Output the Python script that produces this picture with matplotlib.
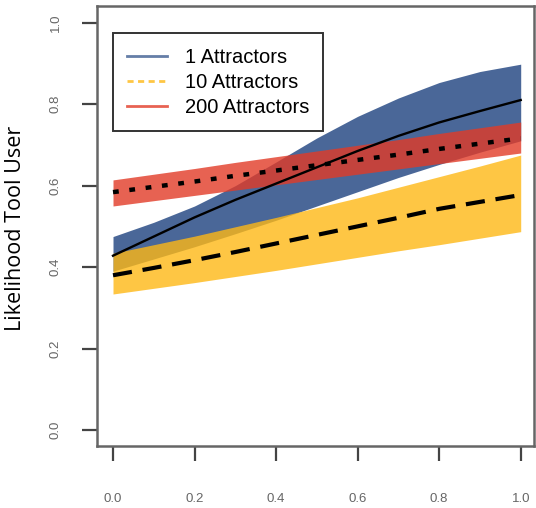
import matplotlib
matplotlib.use('Agg')
import matplotlib.pyplot as plt
from matplotlib.lines import Line2D
import numpy as np

# ============================================================
# 数据
# ============================================================
x_vals = [0.0, 0.1, 0.2, 0.3, 0.4, 0.5, 0.6, 0.7, 0.8, 0.9, 1.0]

# 1 Attractors
mean_1 = [0.428, 0.475, 0.522, 0.565, 0.605, 0.645, 0.685, 0.722, 0.755, 0.783, 0.810]
upper_1 = [0.475, 0.510, 0.550, 0.600, 0.658, 0.717, 0.770, 0.815, 0.853, 0.880, 0.898]
lower_1 = [0.390, 0.420, 0.450, 0.482, 0.515, 0.550, 0.585, 0.620, 0.652, 0.682, 0.710]

# 10 Attractors
mean_10 = [0.380, 0.398, 0.417, 0.437, 0.458, 0.479, 0.500, 0.521, 0.543, 0.560, 0.577]
upper_10 = [0.434, 0.455, 0.476, 0.499, 0.522, 0.546, 0.570, 0.596, 0.622, 0.648, 0.675]
lower_10 = [0.334, 0.348, 0.362, 0.377, 0.392, 0.408, 0.424, 0.440, 0.455, 0.471, 0.487]

# 200 Attractors
mean_200 = [0.584, 0.597, 0.610, 0.624, 0.637, 0.650, 0.663, 0.676, 0.690, 0.703, 0.716]
upper_200 = [0.614, 0.628, 0.642, 0.657, 0.671, 0.685, 0.699, 0.713, 0.728, 0.742, 0.756]
lower_200 = [0.550, 0.563, 0.576, 0.589, 0.602, 0.615, 0.628, 0.641, 0.654, 0.667, 0.680]

series_labels = ['1 Attractors', '10 Attractors', '200 Attractors']
tick_vals = [0.0, 0.2, 0.4, 0.6, 0.8, 1.0]
tick_labels = ['0.0', '0.2', '0.4', '0.6', '0.8', '1.0']

BLUE = '#4a6798'
YELLOW = '#feb815'
RED = '#e23b27'

W, H = 536, 508
fig = plt.figure(figsize=(W / 100, H / 100), dpi=100)
# 坐标轴位置（像素换算）
ax = fig.add_axes([96.7 / W, 1 - 446 / H, (534 - 96.7) / W, (446 - 5.5) / H])

x = np.array(x_vals)
ax.fill_between(x, lower_1, upper_1, color=BLUE, linewidth=0, zorder=1)
ax.fill_between(x, lower_10, upper_10, color=YELLOW, alpha=0.8, linewidth=0, zorder=2)
ax.fill_between(x, lower_200, upper_200, color=RED, alpha=0.8, linewidth=0, zorder=3)

ax.plot(x, mean_1, '-', color='black', linewidth=1.7, zorder=5)
ax.plot(x, mean_10, color='black', linewidth=3.0, dashes=(4.6, 2.6), zorder=5)
ax.plot(x, mean_200, color='black', linewidth=3.2, dashes=(1.3, 2.4), zorder=5)

ax.set_xlim(-0.04, 1.0326)
ax.set_ylim(-0.039, 1.042)

ax.set_xticks(tick_vals)
ax.set_xticklabels(tick_labels)
ax.set_yticks(tick_vals)
ax.set_yticklabels(tick_labels, rotation=90, va='center')
ax.tick_params(axis='both', direction='out', length=11, width=1.6, color='#444444',
               labelcolor='#666666', labelsize=9.5)
ax.tick_params(axis='x', pad=23)
ax.tick_params(axis='y', pad=14)
for lbl in ax.get_xticklabels() + ax.get_yticklabels():
    lbl.set_family('Liberation Sans')

for sp in ax.spines.values():
    sp.set_color('#666666')
    sp.set_linewidth(1.8)

fig.text(16 / W, 1 - 228 / H, 'Likelihood Tool User', rotation=90,
         ha='center', va='center', fontsize=15.5, family='Open Sans')

handles = [
    Line2D([0], [0], color=BLUE, alpha=0.85, linewidth=2.0),
    Line2D([0], [0], color=YELLOW, alpha=0.8, linewidth=2.0, dashes=(2.2, 1.6)),
    Line2D([0], [0], color=RED, alpha=0.8, linewidth=2.0),
]
leg = ax.legend(handles, series_labels, loc='upper left',
                bbox_to_anchor=(112.7 / W, 1 - 33.3 / H), bbox_transform=fig.transFigure,
                fancybox=False, framealpha=1, edgecolor='#333333',
                prop={'family': 'Liberation Sans', 'size': 14.5},
                handlelength=2.0, handletextpad=0.85, labelspacing=0.3,
                borderpad=0.72, borderaxespad=0)
leg.get_frame().set_linewidth(1.4)
leg.set_zorder(10)

fig.savefig('out.png', dpi=100)
